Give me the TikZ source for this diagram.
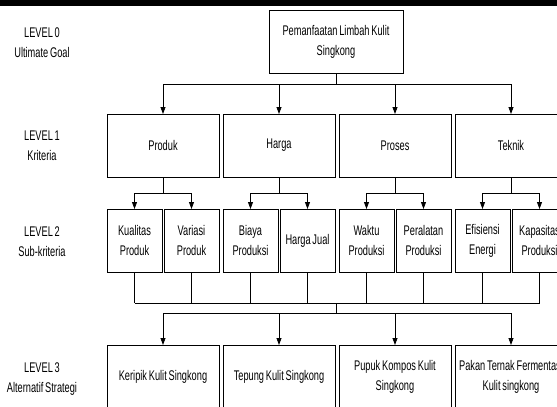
\documentclass[tikz,border=0pt]{standalone}
\usepackage{fontspec}
\setmainfont{Liberation Sans}[FakeStretch=0.66,WordSpace=0.7]
\usetikzlibrary{arrows.meta,shadows}

\begin{document}
\begin{tikzpicture}[x=1pt,y=-1pt,
  >={Triangle[length=7pt,width=5pt]},
  every node/.style={font=\fontsize{14}{20}\selectfont},
  box/.style={draw,fill=white,line width=0.8pt,outer sep=0pt,inner sep=1pt,align=flush center,
    text width=110pt,minimum height=63pt,
    drop shadow={shadow xshift=1.2pt,shadow yshift=-1.2pt,fill=black!40,opacity=0.8}},
  subbox/.style={box,text width=53pt},
  lvl/.style={align=center}]
\useasboundingbox (0,0) rectangle (557,407);
\clip (0,0) rectangle (557,407);
\fill (0,0) rectangle (557,6);

% level labels
\node[lvl] (lv0) at (42,43) {LEVEL 0\\Ultimate Goal};
\node[lvl] (lv1) at (42,145.5) {LEVEL 1\\Kriteria};
\node[lvl] (lv2) at (42,241.5) {LEVEL 2\\Sub-kriteria};
\node[lvl] (lv3) at (42,379) {LEVEL 3\\Alternatif Strategi};

% goal
\node[box,text width=132pt] (goal) at (336,41.5) {Pemanfaatan Limbah Kulit\\Singkong};

% kriteria
\node[box] (produk) at (163,145.5) {Produk};
\node[box] (harga) at (279,145.5) {Harga};
\node[box] (proses) at (395,145.5) {Proses};
\node[box] (teknik) at (511,145.5) {Teknik};

% sub-kriteria
\node[subbox] (kualitas) at (134.5,240.5) {Kualitas\\Produk};
\node[subbox] (variasi) at (191.5,240.5) {Variasi\\Produk};
\node[subbox] (biaya) at (250.5,240.5) {Biaya\\Produksi};
\node[subbox] (jual) at (307.5,240.5) {Harga Jual};
\node[subbox] (waktu) at (366.5,240.5) {Waktu\\Produksi};
\node[subbox] (peralatan) at (423.5,240.5) {Peralatan\\Produksi};
\node[subbox] (efisiensi) at (482.5,240.5) {Efisiensi\\Energi};
\node[subbox] (kapasitas) at (539.5,240.5) {Kapasitas\\Produksi};

% alternatif
\node[box] (keripik) at (163,376.5) {Keripik Kulit Singkong};
\node[box] (tepung) at (279,376.5) {Tepung Kulit Singkong};
\node[box] (pupuk) at (395,376.5) {Pupuk Kompos Kulit\\Singkong};
\node[box] (pakan) at (511,376.5) {\mbox{Pakan Ternak Fermentasi}\\Kulit singkong};

\begin{scope}[line width=0.8pt]
\draw (goal.south) -- ++(0,11) coordinate (j0);
\foreach \n in {produk,harga,proses,teknik}
  \draw[->] (j0) -| (\n.north);

\foreach \k/\a/\b in {produk/kualitas/variasi,harga/biaya/jual,proses/waktu/peralatan,teknik/efisiensi/kapasitas}{
  \draw (\k.south) -- ++(0,16) coordinate (j\k);
  \draw[->] (j\k) -| (\a.north);
  \draw[->] (j\k) -| (\b.north);
}

\coordinate (bus) at (336,303);
\foreach \s in {kualitas,variasi,biaya,jual,waktu,peralatan,efisiensi,kapasitas}
  \draw (\s.south) -- (\s.south |- bus);
\draw (kualitas.south |- bus) -- (kapasitas.south |- bus);
\draw (bus) -- ++(0,10) coordinate (j3);
\foreach \n in {keripik,tepung,pupuk,pakan}
  \draw[->] (j3) -| (\n.north);
\end{scope}
\end{tikzpicture}
\end{document}
